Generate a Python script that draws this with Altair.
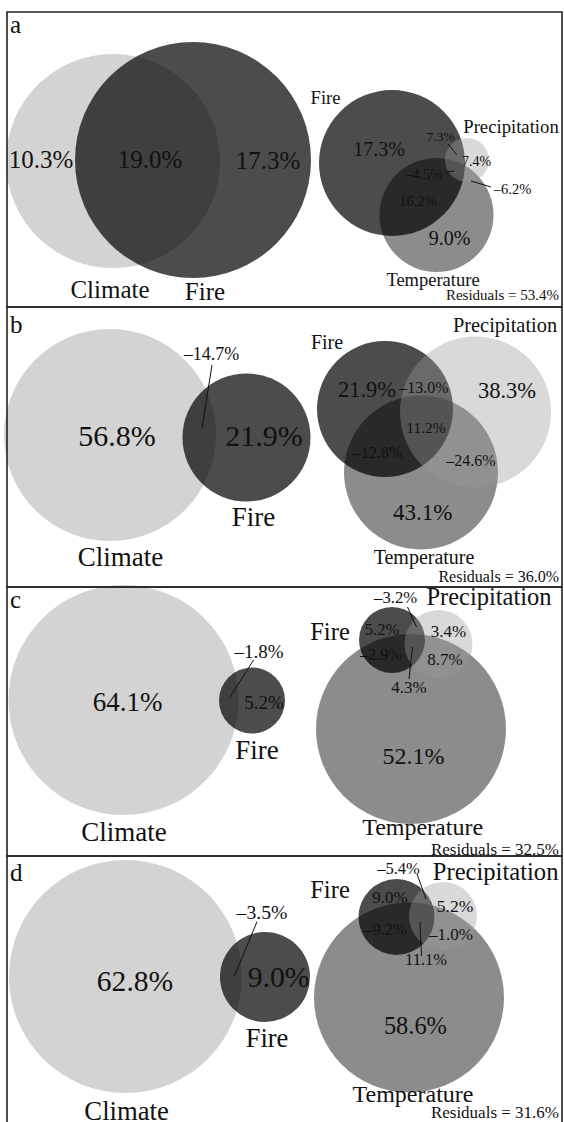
import altair as alt
import pandas as pd

W, H = 564, 1122
SERIF = "Liberation Serif, Times New Roman, Tinos, DejaVu Serif, serif"

panels = ["a", "b", "c", "d"]
residuals = [53.4, 36.0, 32.5, 31.6]

# Variance partition: Climate vs Fire (left diagram of each panel)
climate_only = [10.3, 56.8, 64.1, 62.8]
climate_fire = [19.0, -14.7, -1.8, -3.5]
fire_alone = [17.3, 21.9, 5.2, 9.0]

# Variance partition: Fire / Temperature / Precipitation (right diagram)
fire_only = [17.3, 21.9, 5.2, 9.0]
precip_only = [7.4, 38.3, 3.4, 5.2]
temp_only = [9.0, 43.1, 52.1, 58.6]
fire_precip = [7.3, -13.0, -3.2, -5.4]
fire_temp = [16.2, -12.8, -2.9, -9.2]
temp_precip = [-6.2, -24.6, 8.7, -1.0]
fire_temp_precip = [-4.5, 11.2, 4.3, 11.1]

region_values = {
    "climate_only": climate_only,
    "climate_fire": climate_fire,
    "fire_alone": fire_alone,
    "fire_only": fire_only,
    "precip_only": precip_only,
    "temp_only": temp_only,
    "fire_precip": fire_precip,
    "fire_temp": fire_temp,
    "temp_precip": temp_precip,
    "fire_temp_precip": fire_temp_precip,
}

# ---- layout (page pixels) -------------------------------------------------
panel_rows = [(12, 307), (307, 587), (587, 856), (856, 1125)]
box_left, box_right = 7, 562

# circle: (set, cx, cy, r)
circle_layout = {
    "a": [("Climate", 113, 161, 107), ("Fire", 193, 160, 118),
          ("Fire", 392, 163, 73), ("Temperature", 436.5, 215, 57),
          ("Precipitation", 467, 160, 22)],
    "b": [("Climate", 110, 435, 106), ("Fire", 246.5, 437.5, 64),
          ("Fire", 385, 409, 68), ("Temperature", 421, 472.5, 77),
          ("Precipitation", 475.5, 412, 75.5)],
    "c": [("Climate", 123.5, 700, 115), ("Fire", 252, 700.5, 33),
          ("Fire", 392, 640, 33), ("Temperature", 411, 729, 95),
          ("Precipitation", 438.5, 644, 34)],
    "d": [("Climate", 125.5, 976.5, 116.5), ("Fire", 265, 977, 45),
          ("Fire", 396.5, 917, 38), ("Temperature", 409, 997.5, 95),
          ("Precipitation", 443, 916, 34)],
}

# value labels: region -> (x, y, font size)
value_pos = {
    "a": {"climate_only": (41, 160, 25), "climate_fire": (150, 160, 25),
          "fire_alone": (268, 161, 25), "fire_only": (379, 150, 20),
          "fire_precip": (440.6, 137, 13.5), "precip_only": (476.6, 162, 14),
          "fire_temp_precip": (423.7, 175, 14.5), "temp_precip": (512.5, 190, 14.5),
          "fire_temp": (418, 202, 14.5), "temp_only": (449.6, 239, 20)},
    "b": {"climate_only": (117, 437, 30), "climate_fire": (211.5, 355, 18),
          "fire_alone": (264, 437, 30), "fire_only": (367, 390, 22.5),
          "fire_precip": (424, 388, 16), "precip_only": (507, 391, 22.5),
          "fire_temp_precip": (426, 428, 15.5), "fire_temp": (377.6, 452.7, 16),
          "temp_precip": (471, 461, 16), "temp_only": (422.6, 513, 23)},
    "c": {"climate_only": (127.7, 703, 27), "climate_fire": (259, 652, 19),
          "fire_alone": (264, 703, 19), "fire_precip": (395.6, 598, 16.7),
          "fire_only": (382, 630, 16.6), "precip_only": (448.5, 632, 17),
          "fire_temp": (381, 655, 16.3), "temp_precip": (445, 660, 17),
          "fire_temp_precip": (409, 688, 17), "temp_only": (413.6, 757, 24)},
    "d": {"climate_only": (135, 981.7, 29.6), "climate_fire": (262, 913, 19.7),
          "fire_alone": (278.7, 978, 29.6), "fire_precip": (398.5, 869, 16.5),
          "fire_only": (390, 898, 17), "precip_only": (455, 907, 17.5),
          "fire_temp": (385.5, 930, 16.5), "temp_precip": (451, 935, 17),
          "fire_temp_precip": (426, 960, 16.5), "temp_only": (415.4, 1026.7, 24.4)},
}

# set names: (text, x, y, font size)
name_pos = {
    "a": [("Climate", 110, 290, 25), ("Fire", 205, 292, 25), ("Fire", 325.5, 98, 18.5),
          ("Precipitation", 511, 127, 18.7), ("Temperature", 433, 280, 18.5)],
    "b": [("Climate", 120.5, 558, 27), ("Fire", 253.6, 518, 27), ("Fire", 327, 343, 20),
          ("Precipitation", 505, 326, 20.4), ("Temperature", 424, 558, 20)],
    "c": [("Climate", 124, 833, 27), ("Fire", 257, 751, 27), ("Fire", 330, 633, 24.6),
          ("Precipitation", 489, 598, 24.5), ("Temperature", 422.6, 828, 24)],
    "d": [("Climate", 126.6, 1111.7, 26.7), ("Fire", 267, 1039, 26.5), ("Fire", 330, 890.7, 24.6),
          ("Precipitation", 495.6, 873, 24.6), ("Temperature", 413, 1095, 24)],
}

# residual label y and font size, panel letter y
residual_pos = {"a": (295, 15), "b": (577, 16), "c": (849.5, 17), "d": (1112.5, 17)}
letter_y = {"a": 25, "b": 325, "c": 600, "d": 873}

# leader lines for labels placed outside their region
leaders = {
    "a": [(448, 144, 457, 155), (446, 172, 454, 171), (471, 181, 491, 187)],
    "b": [(212, 365, 202, 428)],
    "c": [(253.6, 660, 230, 697), (407.5, 607, 416.5, 627), (412.5, 647, 409, 679)],
    "d": [(257, 921.7, 234.5, 976), (417, 874, 426, 899), (420, 921.7, 421.5, 956)],
}


def pct(v):
    return f"{v:.1f}%".replace("-", "\u2013")


circle_rows, value_rows, name_rows, lead_rows, res_rows, letter_rows, box_rows = [], [], [], [], [], [], []
for i, p in enumerate(panels):
    for s, cx, cy, r in circle_layout[p]:
        # Vega circle symbols have diameter sqrt(size)
        circle_rows.append({"panel": p, "set": s, "x": cx, "y": cy, "size": (2 * r) ** 2})
    for key, (x, y, fs) in value_pos[p].items():
        value_rows.append({"panel": p, "text": pct(region_values[key][i]), "x": x, "y": y, "fs": fs})
    for t, x, y, fs in name_pos[p]:
        name_rows.append({"panel": p, "text": t, "x": x, "y": y, "fs": fs})
    for x1, y1, x2, y2 in leaders[p]:
        lead_rows.append({"x": x1, "y": y1, "x2": x2, "y2": y2})
    ry, rfs = residual_pos[p]
    res_rows.append({"text": f"Residuals = {residuals[i]:.1f}%", "x": 559, "y": ry, "fs": rfs})
    letter_rows.append({"text": p, "x": 10, "y": letter_y[p]})
    top, bottom = panel_rows[i]
    box_rows.append({"x": box_left, "x2": box_right, "y": top, "y2": bottom})

circles = pd.DataFrame(circle_rows)
values = pd.DataFrame(value_rows)
names = pd.DataFrame(name_rows)
lead = pd.DataFrame(lead_rows)
res = pd.DataFrame(res_rows)
letters = pd.DataFrame(letter_rows)
boxes = pd.DataFrame(box_rows)

xs = alt.Scale(domain=[0, W], range=[0, W], nice=False, zero=False)
ys = alt.Scale(domain=[0, H], range=[0, H], nice=False, zero=False)
X = lambda f: alt.X(f, type="quantitative", scale=xs, axis=None)
Y = lambda f: alt.Y(f, type="quantitative", scale=ys, axis=None)

set_style = [
    ("Climate", "#d3d3d3", 1.0),
    ("Fire", "#000000", 0.70),
    ("Temperature", "#000000", 0.45),
    ("Precipitation", "#9b9b9b", 0.38),
]

layers = []
for s, col, op in set_style:
    layers.append(
        alt.Chart(circles)
        .transform_filter(alt.datum.set == s)
        .mark_point(shape="circle", filled=True, fill=col, fillOpacity=op, strokeWidth=0, opacity=1)
        .encode(x=X("x"), y=Y("y"), size=alt.Size("size:Q", scale=None, legend=None))
    )

lead_layer = alt.Chart(lead).mark_rule(color="#111111", strokeWidth=1).encode(
    x=X("x"), y=Y("y"), x2="x2:Q", y2="y2:Q")

text_common = dict(font=SERIF, color="#111111", baseline="middle")
value_layer = alt.Chart(values).mark_text(align="center", **text_common).encode(
    x=X("x"), y=Y("y"), text="text:N", size=alt.Size("fs:Q", scale=None, legend=None))
name_layer = alt.Chart(names).mark_text(align="center", **text_common).encode(
    x=X("x"), y=Y("y"), text="text:N", size=alt.Size("fs:Q", scale=None, legend=None))
res_layer = alt.Chart(res).mark_text(align="right", **text_common).encode(
    x=X("x"), y=Y("y"), text="text:N", size=alt.Size("fs:Q", scale=None, legend=None))
letter_layer = alt.Chart(letters).mark_text(align="left", fontSize=25, **text_common).encode(
    x=X("x"), y=Y("y"), text="text:N")
box_layer = alt.Chart(boxes).mark_rect(fill=None, stroke="#222222", strokeWidth=1.6).encode(
    x=X("x"), x2="x2:Q", y=Y("y"), y2="y2:Q")

chart = (
    alt.layer(*layers, lead_layer, value_layer, name_layer, res_layer, letter_layer, box_layer)
    .properties(width=W, height=H, autosize=alt.AutoSizeParams(type="none"), padding=0,
                background="white")
    .configure_view(stroke=None)
)

chart.save("out.html", embed_options={"renderer": "svg", "actions": False})
